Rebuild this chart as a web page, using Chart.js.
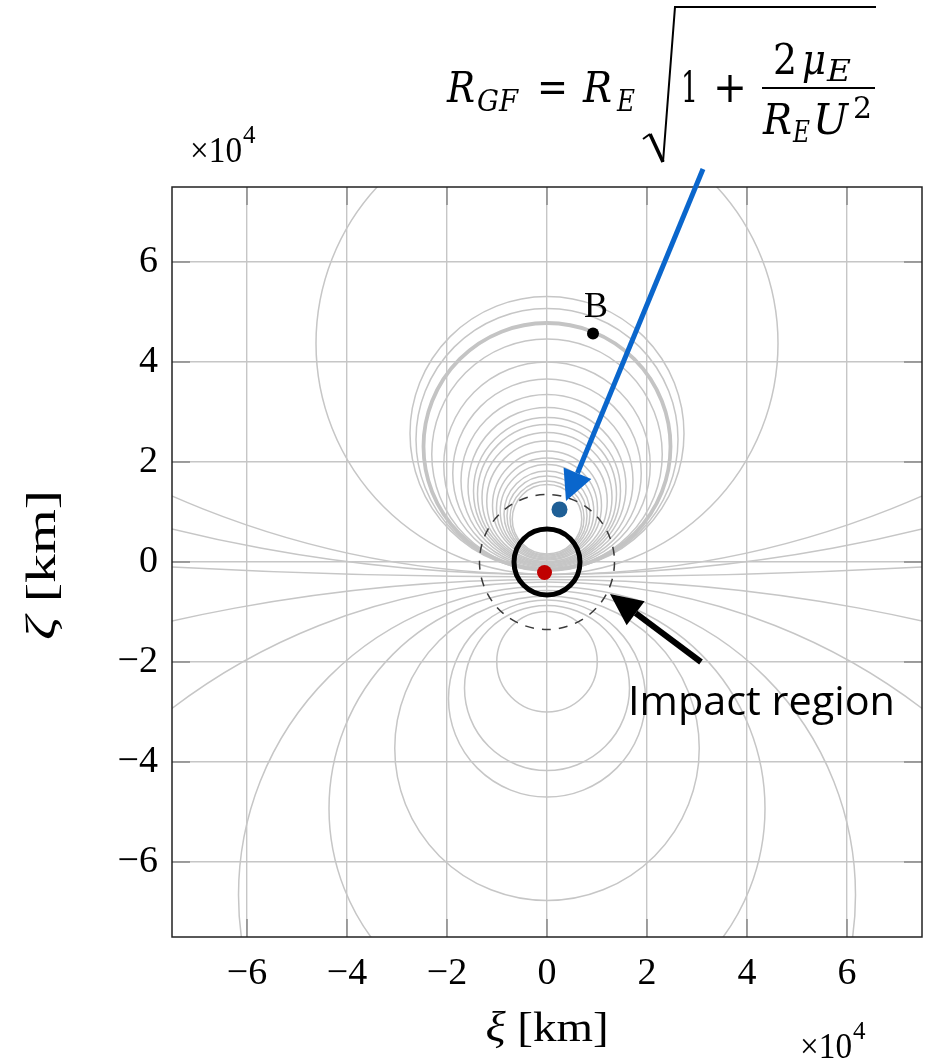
<!DOCTYPE html>
<html>
<head>
<meta charset="utf-8">
<script src="https://cdn.jsdelivr.net/npm/chart.js@4"></script>
<style>html,body{margin:0;padding:0;background:#fff}</style>
</head>
<body>
<canvas id="myChart" width="930" height="1063"></canvas>
<script>
// all lengths in units of 10^4 km
const xTicks = [-6, -4, -2, 0, 2, 4, 6];
const yTicks = [-6, -4, -2, 0, 2, 4, 6];

// circles above the origin: where they cross the zeta axis (top / bottom)
const upperTop    = [8.99, 5.31, 5.07, 4.78, 4.46, 4.00, 3.66, 3.35, 3.09, 2.89, 2.75, 2.59, 2.42, 2.22, 2.08, 1.95, 1.82, 1.72, 1.62, 1.55];
const upperBottom = [-0.25, -0.17, -0.17, -0.16, -0.15, -0.13, -0.11, -0.09, -0.07, -0.05, -0.03, -0.01, 0.01, 0.04, 0.06, 0.08, 0.10, 0.12, 0.14, 0.16];
const thickIndex = 3;

// circles below the origin
const lowerTop    = [-0.99, -0.87, -0.76, -0.68, -0.57, -0.49];
const lowerBottom = [-3.00, -4.17, -4.70, -6.77, -9.29, -12.83];

// very large circles, only the flat part near the origin shows
const sideCentre = [18.45, 31.1, 140, -34.65, -12.78];
const sideRadius = [18.7, 31.35, 140.3, 34.3, 12.38];

const impactRadius = 0.66;
const dashedRadius = 1.35;
const earthPoint = [-0.05, -0.21];
const focusPoint = [0.25, 1.05];
const bPoint = [0.92, 4.57];

// annotation arrows (data coords): tail then tip
const blueArrow = [3.12, 7.86, 0.38, 1.22];
const blackArrow = [3.08, -2.0, 1.26, -0.64];

const serif = 'Liberation Serif';
const mathFont = 'DejaVu Serif';

function fmt(v) {
  return v < 0 ? '\u2212' + Math.abs(v) : String(v);
}

const circlesPlugin = {
  id: 'circles',
  beforeDatasetsDraw(chart) {
    const {ctx, chartArea: a, scales: {x, y}} = chart;
    const k = x.getPixelForValue(1) - x.getPixelForValue(0);
    const cx = x.getPixelForValue(0);
    const ring = (c, r, color, w, dash) => {
      ctx.beginPath();
      ctx.setLineDash(dash || []);
      ctx.strokeStyle = color;
      ctx.lineWidth = w;
      ctx.arc(cx, y.getPixelForValue(c), r * k, 0, Math.PI * 2);
      ctx.stroke();
    };
    ctx.save();
    ctx.beginPath();
    ctx.rect(a.left, a.top, a.width, a.height);
    ctx.clip();
    for (let i = 0; i < sideCentre.length; i++) ring(sideCentre[i], sideRadius[i], '#c6c6c6', 1.5);
    for (let i = 0; i < lowerTop.length; i++) {
      ring((lowerTop[i] + lowerBottom[i]) / 2, (lowerTop[i] - lowerBottom[i]) / 2, '#c6c6c6', 1.5);
    }
    for (let i = 0; i < upperTop.length; i++) {
      if (i === thickIndex) continue;
      ring((upperTop[i] + upperBottom[i]) / 2, (upperTop[i] - upperBottom[i]) / 2, '#c6c6c6', 1.5);
    }
    const t = thickIndex;
    ring((upperTop[t] + upperBottom[t]) / 2, (upperTop[t] - upperBottom[t]) / 2, '#c4c4c4', 3.8);
    ring(0, dashedRadius, '#3a3a3a', 1.5, [9, 8]);
    ring(0, impactRadius, '#000', 5);
    ctx.restore();

    // frame with inward ticks
    ctx.save();
    ctx.strokeStyle = '#8a8a8a';
    ctx.lineWidth = 1.5;
    ctx.beginPath();
    xTicks.forEach(v => {
      const px = x.getPixelForValue(v);
      ctx.moveTo(px, a.top); ctx.lineTo(px, a.top + 18);
      ctx.moveTo(px, a.bottom); ctx.lineTo(px, a.bottom - 18);
    });
    yTicks.forEach(v => {
      const py = y.getPixelForValue(v);
      ctx.moveTo(a.left, py); ctx.lineTo(a.left + 18, py);
      ctx.moveTo(a.right, py); ctx.lineTo(a.right - 18, py);
    });
    ctx.stroke();
    ctx.strokeStyle = '#222';
    ctx.lineWidth = 1.5;
    ctx.strokeRect(a.left, a.top, a.width, a.height);
    ctx.restore();
  }
};

function txt(ctx, s, x, y, font, w) {
  ctx.font = font;
  ctx.save();
  ctx.translate(x, y);
  if (w) ctx.scale(w / ctx.measureText(s).width, 1);
  ctx.fillText(s, 0, 0);
  ctx.restore();
}

function arrow(ctx, x1, y1, x2, y2, color, lw, hl, hw) {
  const ang = Math.atan2(y2 - y1, x2 - x1);
  const bx = x2 - hl * Math.cos(ang), by = y2 - hl * Math.sin(ang);
  ctx.save();
  ctx.strokeStyle = color;
  ctx.fillStyle = color;
  ctx.lineWidth = lw;
  ctx.beginPath();
  ctx.moveTo(x1, y1);
  ctx.lineTo(bx, by);
  ctx.stroke();
  ctx.beginPath();
  ctx.moveTo(x2, y2);
  ctx.lineTo(bx + hw / 2 * Math.sin(ang), by - hw / 2 * Math.cos(ang));
  ctx.lineTo(bx - hw / 2 * Math.sin(ang), by + hw / 2 * Math.cos(ang));
  ctx.closePath();
  ctx.fill();
  ctx.restore();
}

// italic symbol followed by upright " [km]", centred on 0 and squeezed to width w
function axisTitle(ctx, sym, w) {
  const f1 = 'italic 42px "' + serif + '"', f2 = '42px "' + serif + '"';
  ctx.font = f1;
  const a = ctx.measureText(sym).width;
  ctx.font = f2;
  const b = ctx.measureText(' [km]').width;
  const s = w / (a + b);
  ctx.save();
  ctx.scale(s, 1);
  txt(ctx, sym, -(a + b) / 2, 0, f1);
  txt(ctx, ' [km]', -(a + b) / 2 + a, 0, f2);
  ctx.restore();
}

const textPlugin = {
  id: 'texts',
  afterDraw(chart) {
    const {ctx, scales: {x, y}} = chart;
    ctx.save();
    ctx.fillStyle = '#000';
    ctx.textBaseline = 'alphabetic';
    ctx.textAlign = 'left';

    // B label
    ctx.textAlign = 'center';
    txt(ctx, 'B', x.getPixelForValue(bPoint[0]) + 3, y.getPixelForValue(bPoint[1]) - 17, '36px "' + serif + '"');
    ctx.textAlign = 'left';

    // multipliers
    txt(ctx, '\u00d710', 190, 162, '36px "' + serif + '"', 52);
    txt(ctx, '4', 243, 143, '25px "' + serif + '"');
    txt(ctx, '\u00d710', 800, 1058, '36px "' + serif + '"', 52);
    txt(ctx, '4', 853, 1039, '25px "' + serif + '"');

    // axis titles
    ctx.save();
    ctx.translate(55, 565);
    ctx.rotate(-Math.PI / 2);
    axisTitle(ctx, '\u03b6', 150);
    ctx.restore();
    ctx.save();
    ctx.translate(547, 1041);
    axisTitle(ctx, '\u03be', 123);
    ctx.restore();

    // formula R_GF = R_E sqrt(1 + 2 mu_E / (R_E U^2))
    const big = 'italic 42px "' + mathFont + '"';
    const bigUp = '42px "' + mathFont + '"';
    const sub = 'italic 29px "' + mathFont + '"';
    txt(ctx, 'R', 447, 102, big, 28);
    txt(ctx, 'GF', 477, 111, sub, 41);
    txt(ctx, '=', 537, 102, bigUp, 31);
    txt(ctx, 'R', 583, 102, big, 29);
    txt(ctx, 'E', 617, 111, sub, 18);
    ctx.save();
    ctx.strokeStyle = '#000';
    ctx.lineJoin = 'miter';
    ctx.lineWidth = 2;
    ctx.beginPath();
    ctx.moveTo(643, 139); ctx.lineTo(650, 134);
    ctx.stroke();
    ctx.lineWidth = 3.5;
    ctx.beginPath();
    ctx.moveTo(650, 134); ctx.lineTo(663, 162);
    ctx.stroke();
    ctx.lineWidth = 2;
    ctx.beginPath();
    ctx.moveTo(663, 162); ctx.lineTo(675, 7); ctx.lineTo(876, 7);
    ctx.stroke();
    ctx.beginPath();
    ctx.moveTo(762, 88); ctx.lineTo(875, 88);
    ctx.stroke();
    ctx.restore();
    txt(ctx, '1', 681, 102, bigUp, 17);
    txt(ctx, '+', 713, 102, bigUp, 34);
    txt(ctx, '2', 773, 74, bigUp, 24);
    txt(ctx, '\u03bc', 802, 74, big, 24);
    txt(ctx, 'E', 827, 81, sub, 24);
    txt(ctx, 'R', 763, 134, big, 29);
    txt(ctx, 'E', 793, 142, sub, 17);
    txt(ctx, 'U', 813, 134, big, 35);
    txt(ctx, '2', 853, 118, '29px "' + mathFont + '"', 19);

    // arrows
    arrow(ctx, x.getPixelForValue(blueArrow[0]), y.getPixelForValue(blueArrow[1]),
          x.getPixelForValue(blueArrow[2]), y.getPixelForValue(blueArrow[3]), '#0a66cc', 5, 30, 30);
    arrow(ctx, x.getPixelForValue(blackArrow[0]), y.getPixelForValue(blackArrow[1]),
          x.getPixelForValue(blackArrow[2]), y.getPixelForValue(blackArrow[3]), '#000', 6, 32, 30);

    txt(ctx, 'Impact region', 628, 715, '40px "Open Sans"', 267);
    ctx.restore();
  }
};

const pts = p => [{x: p[0], y: p[1]}];

new Chart(document.getElementById('myChart'), {
  type: 'scatter',
  data: {
    datasets: [
      {data: pts(earthPoint), backgroundColor: '#c00000', borderWidth: 0, pointRadius: 7.5},
      {data: pts(focusPoint), backgroundColor: '#1f5f96', borderWidth: 0, pointRadius: 8},
      {data: pts(bPoint), backgroundColor: '#000', borderWidth: 0, pointRadius: 6}
    ]
  },
  options: {
    responsive: false,
    animation: false,
    events: [],
    layout: {padding: {left: 0, right: 8, top: 187, bottom: 66}},
    plugins: {legend: {display: false}, tooltip: {enabled: false}},
    scales: {
      x: {
        type: 'linear', min: -7.5, max: 7.5,
        afterBuildTicks: s => { s.ticks = xTicks.map(v => ({value: v})); },
        afterFit: s => { s.height = 60; },
        grid: {color: '#c6c6c6', lineWidth: 1.4, drawTicks: false, tickLength: 0},
        border: {display: false},
        ticks: {font: {family: serif, size: 38}, color: '#000', padding: 14, maxRotation: 0, callback: v => fmt(v)}
      },
      y: {
        type: 'linear', min: -7.5, max: 7.5,
        afterBuildTicks: s => { s.ticks = yTicks.map(v => ({value: v})); },
        afterFit: s => { s.width = 172; },
        grid: {color: '#c6c6c6', lineWidth: 1.4, drawTicks: false, tickLength: 0},
        border: {display: false},
        ticks: {font: {family: serif, size: 38}, color: '#000', padding: 14, callback: v => fmt(v)}
      }
    }
  },
  plugins: [circlesPlugin, textPlugin]
});
</script>
</body>
</html>
